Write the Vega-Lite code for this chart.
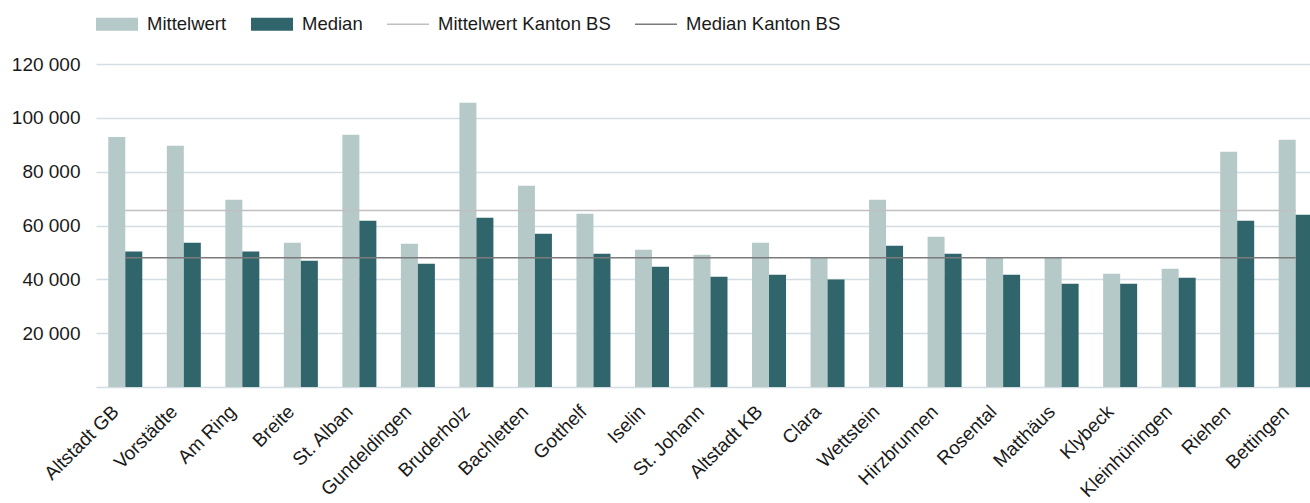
{
  "$schema": "https://vega.github.io/schema/vega-lite/v6.json",
  "width": 1214,
  "height": 323,
  "autosize": {"type": "none"},
  "padding": {"left": 96, "top": 64, "right": 0, "bottom": 116},
  "config": {"view": {"stroke": null}, "font": "Liberation Sans", "background": "white"},
  "datasets": {
    "quartiere": [
      {"Quartier": "Altstadt GB", "Reihe": "Mittelwert", "Wert": 92900},
      {"Quartier": "Altstadt GB", "Reihe": "Median", "Wert": 50300},
      {"Quartier": "Vorstädte", "Reihe": "Mittelwert", "Wert": 89600},
      {"Quartier": "Vorstädte", "Reihe": "Median", "Wert": 53600},
      {"Quartier": "Am Ring", "Reihe": "Mittelwert", "Wert": 69600},
      {"Quartier": "Am Ring", "Reihe": "Median", "Wert": 50300},
      {"Quartier": "Breite", "Reihe": "Mittelwert", "Wert": 53600},
      {"Quartier": "Breite", "Reihe": "Median", "Wert": 46900},
      {"Quartier": "St. Alban", "Reihe": "Mittelwert", "Wert": 93700},
      {"Quartier": "St. Alban", "Reihe": "Median", "Wert": 61800},
      {"Quartier": "Gundeldingen", "Reihe": "Mittelwert", "Wert": 53200},
      {"Quartier": "Gundeldingen", "Reihe": "Median", "Wert": 45800},
      {"Quartier": "Bruderholz", "Reihe": "Mittelwert", "Wert": 105600},
      {"Quartier": "Bruderholz", "Reihe": "Median", "Wert": 62900},
      {"Quartier": "Bachletten", "Reihe": "Mittelwert", "Wert": 74800},
      {"Quartier": "Bachletten", "Reihe": "Median", "Wert": 56900},
      {"Quartier": "Gotthelf", "Reihe": "Mittelwert", "Wert": 64400},
      {"Quartier": "Gotthelf", "Reihe": "Median", "Wert": 49500},
      {"Quartier": "Iselin", "Reihe": "Mittelwert", "Wert": 51000},
      {"Quartier": "Iselin", "Reihe": "Median", "Wert": 44700},
      {"Quartier": "St. Johann", "Reihe": "Mittelwert", "Wert": 49100},
      {"Quartier": "St. Johann", "Reihe": "Median", "Wert": 41000},
      {"Quartier": "Altstadt KB", "Reihe": "Mittelwert", "Wert": 53600},
      {"Quartier": "Altstadt KB", "Reihe": "Median", "Wert": 41700},
      {"Quartier": "Clara", "Reihe": "Mittelwert", "Wert": 48000},
      {"Quartier": "Clara", "Reihe": "Median", "Wert": 39900},
      {"Quartier": "Wettstein", "Reihe": "Mittelwert", "Wert": 69600},
      {"Quartier": "Wettstein", "Reihe": "Median", "Wert": 52500},
      {"Quartier": "Hirzbrunnen", "Reihe": "Mittelwert", "Wert": 55800},
      {"Quartier": "Hirzbrunnen", "Reihe": "Median", "Wert": 49500},
      {"Quartier": "Rosental", "Reihe": "Mittelwert", "Wert": 48000},
      {"Quartier": "Rosental", "Reihe": "Median", "Wert": 41700},
      {"Quartier": "Matthäus", "Reihe": "Mittelwert", "Wert": 48000},
      {"Quartier": "Matthäus", "Reihe": "Median", "Wert": 38400},
      {"Quartier": "Klybeck", "Reihe": "Mittelwert", "Wert": 42100},
      {"Quartier": "Klybeck", "Reihe": "Median", "Wert": 38400},
      {"Quartier": "Kleinhüningen", "Reihe": "Mittelwert", "Wert": 43900},
      {"Quartier": "Kleinhüningen", "Reihe": "Median", "Wert": 40600},
      {"Quartier": "Riehen", "Reihe": "Mittelwert", "Wert": 87400},
      {"Quartier": "Riehen", "Reihe": "Median", "Wert": 61800},
      {"Quartier": "Bettingen", "Reihe": "Mittelwert", "Wert": 91900},
      {"Quartier": "Bettingen", "Reihe": "Median", "Wert": 64000}
    ],
    "kanton": [
      {"Quartier": "Altstadt GB", "Reihe": "Mittelwert Kanton BS", "Wert": 65600},
      {"Quartier": "Bettingen", "Reihe": "Mittelwert Kanton BS", "Wert": 65600},
      {"Quartier": "Altstadt GB", "Reihe": "Median Kanton BS", "Wert": 48000},
      {"Quartier": "Bettingen", "Reihe": "Median Kanton BS", "Wert": 48000}
    ]
  },
  "encoding": {
    "x": {
      "field": "Quartier",
      "type": "nominal",
      "sort": null,
      "scale": {
        "domain": ["Altstadt GB", "Vorstädte", "Am Ring", "Breite", "St. Alban", "Gundeldingen", "Bruderholz", "Bachletten", "Gotthelf", "Iselin", "St. Johann", "Altstadt KB", "Clara", "Wettstein", "Hirzbrunnen", "Rosental", "Matthäus", "Klybeck", "Kleinhüningen", "Riehen", "Bettingen"],
        "range": [0, 1229],
        "paddingInner": 0.419,
        "paddingOuter": 0.21
      },
      "axis": {
        "title": null,
        "labelAngle": -45,
        "labelAlign": "right",
        "labelBaseline": "top",
        "labelFontSize": 19,
        "labelColor": "#1a1a1a",
        "labelPadding": 15,
        "labelOffset": -16,
        "labelOverlap": false,
        "labelBound": false,
        "labelLimit": 300,
        "ticks": false,
        "domain": false,
        "grid": false
      }
    },
    "y": {
      "field": "Wert",
      "type": "quantitative",
      "scale": {"domain": [0, 120000], "nice": false},
      "axis": {
        "title": null,
        "values": [0, 20000, 40000, 60000, 80000, 100000, 120000],
        "labelExpr": "datum.value == 0 ? '' : replace(format(datum.value, ','), ',', ' ')",
        "labelFontSize": 19,
        "labelColor": "#1a1a1a",
        "labelPadding": 16,
        "ticks": false,
        "domain": false,
        "gridColor": "#d3dde3",
        "gridWidth": 1.3
      }
    },
    "color": {
      "field": "Reihe",
      "type": "nominal",
      "scale": {
        "domain": ["Mittelwert", "Median", "Mittelwert Kanton BS", "Median Kanton BS"],
        "range": ["#b5c9c8", "#30656b", "#c0c0c0", "#7b7b7b"]
      },
      "legend": {
        "orient": "top",
        "direction": "horizontal",
        "title": null,
        "labelFontSize": 18.5,
        "labelColor": "#1a1a1a",
        "labelOffset": 9,
        "labelLimit": 400,
        "columnPadding": 24,
        "offset": 30,
        "symbolSize": 1764,
        "symbolType": "M-1,-0.31H1V0.31H-1Z",
        "symbolStrokeWidth": 0,
        "symbolOpacity": 1,
        "encode": {
          "symbols": {
            "update": {
              "shape": {"signal": "datum.value == 'Mittelwert' || datum.value == 'Median' ? 'M-1,-0.31H1V0.31H-1Z' : 'M-1,-0.04H1V0.04H-1Z'"},
              "fill": {"scale": "color", "field": "value"},
              "stroke": {"value": "transparent"},
              "strokeWidth": {"value": 0},
              "opacity": {"value": 1}
            }
          }
        }
      }
    }
  },
  "layer": [
    {
      "data": {"name": "quartiere"},
      "mark": {"type": "bar"},
      "encoding": {
        "xOffset": {
          "field": "Reihe",
          "type": "nominal",
          "scale": {"domain": ["Mittelwert", "Median"], "paddingInner": 0, "paddingOuter": 0}
        }
      }
    },
    {
      "data": {"name": "kanton"},
      "mark": {"type": "line", "strokeWidth": 1.6},
      "encoding": {}
    }
  ]
}
